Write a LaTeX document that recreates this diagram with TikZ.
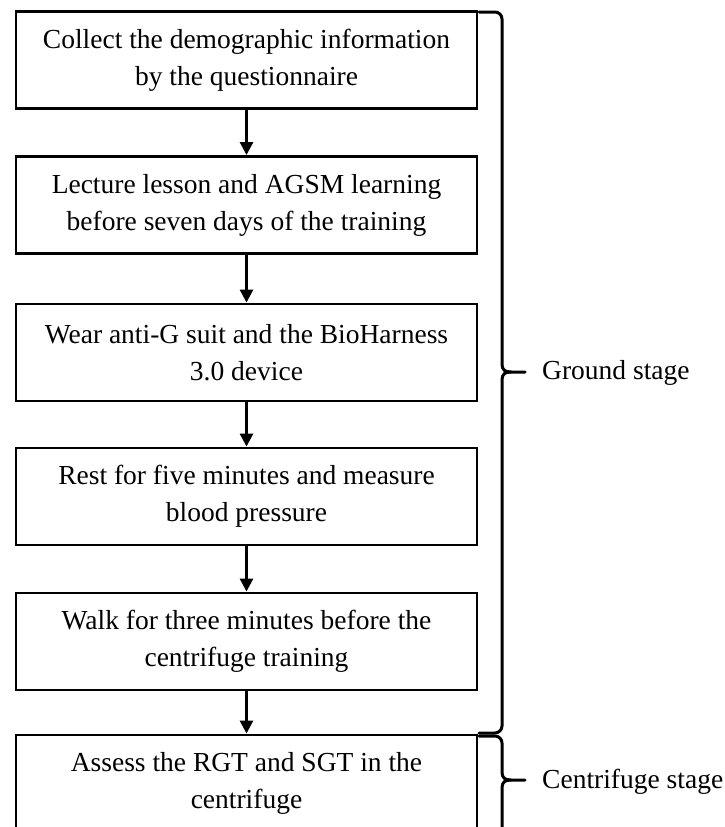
\documentclass[tikz,border=0pt]{standalone}
\usepackage{fontspec}
\setmainfont{Liberation Serif}
\usetikzlibrary{arrows.meta}
\begin{document}
\begin{tikzpicture}[x=1pt,y=-1pt,
  stepbox/.style={draw=black,line width=2.9pt,minimum width=461pt,minimum height=97pt,
    align=center,inner sep=0pt,font=\fontsize{27.5}{37}\selectfont},
  flow/.style={line width=2.8pt,-{Triangle[width=13pt,length=13pt]}},
  bracepath/.style={line width=3pt,line cap=round,line join=round},
  stagelabel/.style={anchor=west,inner sep=0pt,font=\fontsize{27.5}{32}\selectfont}]
\useasboundingbox (0,0) rectangle (724,827);
\clip (0,0) rectangle (724,827);
\node[stepbox] (b1) at (246.5,60) {Collect the demographic information\\by the questionnaire};
\node[stepbox] (b2) at (246.5,205) {Lecture lesson and AGSM learning\\before seven days of the training};
\node[stepbox] (b3) at (246.5,352.5) {Wear anti-G suit and the BioHarness\\3.0 device};
\node[stepbox] (b4) at (246.5,496.5) {Rest for five minutes and measure\\blood pressure};
\node[stepbox] (b5) at (246.5,641.5) {Walk for three minutes before the\\centrifuge training};
\node[stepbox] (b6) at (246.5,783.5) {Assess the RGT and SGT in the\\centrifuge};
\draw[flow] (b1) -- (b2);
\draw[flow] (b2) -- (b3);
\draw[flow] (b3) -- (b4);
\draw[flow] (b4) -- (b5);
\draw[flow] (b5) -- (b6);
% ground stage brace
\coordinate (gtip) at (525,372);
\draw[bracepath] (479,12) -- (495,12) to[out=0,in=90] (502,19) -- (502,364)
  .. controls (502,370) and (505,372) .. (511,372) -- (gtip);
\draw[bracepath] (511,372) .. controls (505,372) and (502,374) .. (502,380)
  -- (502,726) to[out=-90,in=0] (495,733) -- (479,733);
\node[stagelabel] (g) at (542,373) {Ground stage};
% centrifuge stage brace
\coordinate (ctip) at (525,780);
\draw[bracepath] (479,736) -- (495,736) to[out=0,in=90] (502,743) -- (502,772)
  .. controls (502,778) and (505,780) .. (511,780) -- (ctip);
\draw[bracepath] (511,780) .. controls (505,780) and (502,782) .. (502,788)
  -- (502,850);
\node[stagelabel] (c) at (542,782) {Centrifuge stage};
\end{tikzpicture}
\end{document}
